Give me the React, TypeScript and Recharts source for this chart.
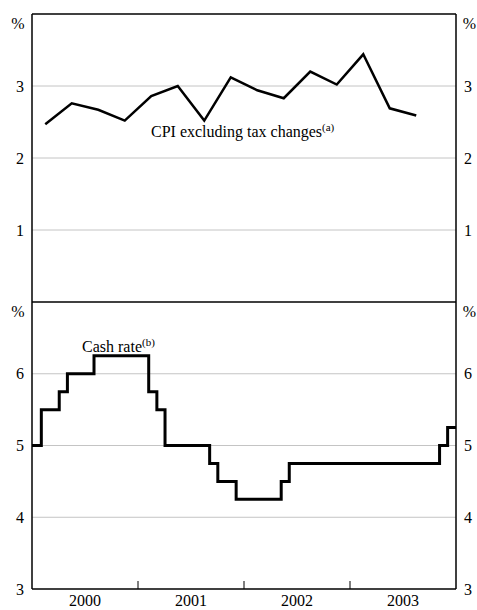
import { LineChart, Line, XAxis, YAxis, ReferenceLine } from "recharts";

// CPI excluding tax changes, quarterly (plotted at mid-quarter), %
const cpiDates = [
  2000.125, 2000.375, 2000.625, 2000.875, 2001.125, 2001.375, 2001.625, 2001.875,
  2002.125, 2002.375, 2002.625, 2002.875, 2003.125, 2003.375, 2003.625,
];
const cpiValues = [2.47, 2.76, 2.67, 2.52, 2.86, 3.0, 2.52, 3.12, 2.94, 2.83, 3.2, 3.02, 3.44, 2.69, 2.59];

// Cash rate target changes (decimal year), %
const cashDates = [
  2000.0, 2000.088, 2000.257, 2000.334, 2000.585, 2001.101, 2001.178, 2001.255,
  2001.676, 2001.753, 2001.926, 2002.351, 2002.427, 2003.845, 2003.921, 2004.0,
];
const cashValues = [5, 5.5, 5.75, 6, 6.25, 5.75, 5.5, 5, 4.75, 4.5, 4.25, 4.5, 4.75, 5, 5.25, 5.25];

const topTicks = [1, 2, 3];
const bottomTicks = [3, 4, 5, 6];
const yearTicks = [2000.5, 2001, 2001.5, 2002, 2002.5, 2003, 2003.5];

const cpiData = cpiDates.map((d, i) => ({ date: d, cpi: cpiValues[i] }));
const cashData = cashDates.map((d, i) => ({ date: d, cash: cashValues[i] }));

const font = "Times New Roman, Liberation Serif, serif";
const fs = 16;
const tickStyle = { fill: "#000", fontSize: fs, fontFamily: font };
const grid = "#c4c4c4";

function YearTick(props: any) {
  const { x, y, payload } = props;
  if (Number.isInteger(payload.value)) {
    return <line x1={x} x2={x} y1={y} y2={y - 8} stroke="#000" strokeWidth={1} />;
  }
  return (
    <text x={x} y={y + 17} textAnchor="middle" fill="#000" fontSize={fs} fontFamily={font}>
      {Math.floor(payload.value)}
    </text>
  );
}

const pctLabel = (dx: number) => ({
  value: "%",
  position: "insideTop" as const,
  offset: 4,
  dx,
  fill: "#000",
  fontSize: fs,
  fontFamily: font,
});

export default function App() {
  return (
    <div style={{ position: "absolute", left: 0, top: 0, width: 477, height: 610, fontFamily: font, background: "#fff" }}>
      <div style={{ position: "absolute", left: 0, top: 0 }}>
        <LineChart width={477} height={316} data={cpiData} margin={{ top: 14, right: 0, left: 0, bottom: 14 }}>
          <XAxis type="number" dataKey="date" domain={[2000, 2004]} hide />
          <YAxis yAxisId="l" orientation="left" width={32} domain={[0, 4]} ticks={topTicks} interval={0}
            tickLine={false} axisLine={{ stroke: "#000", strokeWidth: 1.5 }} tick={tickStyle} label={pctLabel(2)} />
          <YAxis yAxisId="r" orientation="right" width={21} domain={[0, 4]} ticks={topTicks} interval={0}
            tickLine={false} axisLine={{ stroke: "#000", strokeWidth: 1.5 }} tick={tickStyle} label={pctLabel(3)} />
          {topTicks.map((t) => (
            <ReferenceLine key={t} yAxisId="l" y={t} stroke={grid} />
          ))}
          <ReferenceLine yAxisId="l" y={4} stroke="#000" strokeWidth={1.5} />
          <ReferenceLine yAxisId="l" y={0} stroke="#000" strokeWidth={1.5} />
          <Line yAxisId="r" dataKey="cpi" stroke="none" dot={false} activeDot={false} legendType="none" isAnimationActive={false} />
          <Line yAxisId="l" type="linear" dataKey="cpi" stroke="#000" strokeWidth={2.5} dot={false} isAnimationActive={false} />
        </LineChart>
      </div>
      <div style={{ position: "absolute", left: 0, top: 288 }}>
        <LineChart width={477} height={322} data={cashData} margin={{ top: 14, right: 0, left: 0, bottom: 0 }}>
          <XAxis type="number" dataKey="date" domain={[2000, 2004]} ticks={yearTicks} interval={0} height={21}
            tickSize={0} tickMargin={0} tickLine={false} axisLine={{ stroke: "#000", strokeWidth: 1.5 }} tick={<YearTick />} />
          <YAxis yAxisId="l" orientation="left" width={32} domain={[3, 7]} ticks={bottomTicks} interval={0}
            tickLine={false} axisLine={{ stroke: "#000", strokeWidth: 1.5 }} tick={tickStyle} label={pctLabel(2)} />
          <YAxis yAxisId="r" orientation="right" width={21} domain={[3, 7]} ticks={bottomTicks} interval={0}
            tickLine={false} axisLine={{ stroke: "#000", strokeWidth: 1.5 }} tick={tickStyle} label={pctLabel(3)} />
          {bottomTicks.slice(1).map((t) => (
            <ReferenceLine key={t} yAxisId="l" y={t} stroke={grid} />
          ))}
          <Line yAxisId="r" type="stepAfter" dataKey="cash" stroke="none" dot={false} activeDot={false} legendType="none" isAnimationActive={false} />
          <Line yAxisId="l" type="stepAfter" dataKey="cash" stroke="#000" strokeWidth={3} dot={false} isAnimationActive={false} />
        </LineChart>
      </div>
      <div style={{ position: "absolute", left: 151, top: 117, fontSize: fs, lineHeight: "20px", whiteSpace: "nowrap" }}>
        CPI excluding tax changes<sup style={{ fontSize: 11 }}>(a)</sup>
      </div>
      <div style={{ position: "absolute", left: 82, top: 332, fontSize: fs, lineHeight: "20px", whiteSpace: "nowrap" }}>
        Cash rate<sup style={{ fontSize: 11 }}>(b)</sup>
      </div>
    </div>
  );
}
